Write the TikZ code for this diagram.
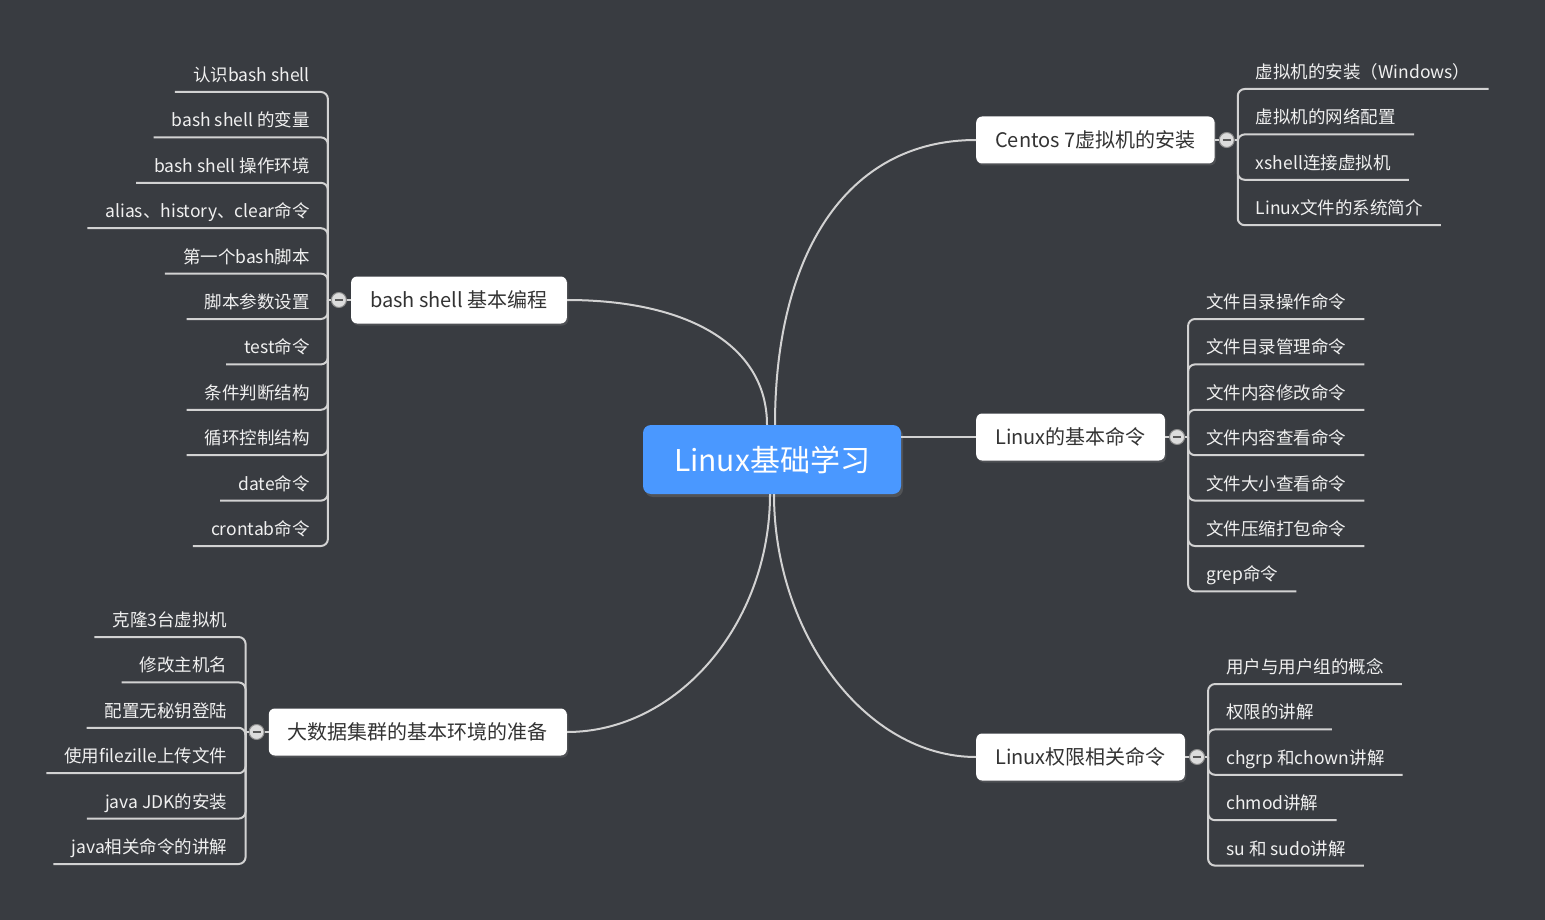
\documentclass[tikz,border=0pt]{standalone}
\usepackage{fontspec}
\setmainfont{Noto Sans CJK SC}
\usetikzlibrary{positioning,shadows}
\definecolor{bgDark}{HTML}{393C41}
\definecolor{rootBlue}{HTML}{4A98FF}
\definecolor{topicText}{HTML}{333333}
\definecolor{leafText}{HTML}{F0F0F0}
\definecolor{lineGray}{HTML}{D2D2D2}
\definecolor{foldFill}{HTML}{DCDCDC}
\tikzset{
  rootbox/.style={fill=rootBlue, rounded corners=8pt, text=white,
    minimum width=258pt, minimum height=69pt, font=\fontsize{30}{36}\selectfont,
    drop shadow={opacity=0.35, shadow xshift=2pt, shadow yshift=-3pt}},
  topicbox/.style={fill=white, rounded corners=6pt, text=topicText,
    inner xsep=19pt, minimum height=47pt, font=\fontsize{20}{24}\selectfont,
    drop shadow={opacity=0.3, shadow xshift=1.5pt, shadow yshift=-2pt}},
  leafnode/.style={text=leafText, inner xsep=18pt, inner ysep=0pt,
    text height=34.7pt, text depth=10.3pt, font=\fontsize{17.5}{21}\selectfont},
  foldbtn/.style={circle, draw=black!45, fill=foldFill, line width=1pt,
    minimum size=15pt, inner sep=0pt,
    path picture={\draw[line width=2.5pt, black!65]
      ([xshift=-4pt]path picture bounding box.center) --
      ([xshift=4pt]path picture bounding box.center);}},
  limbArc/.style={draw=lineGray, line width=2pt},
  twigArc/.style={draw=lineGray, line width=2pt, rounded corners=7pt},
}

\begin{document}
\begin{tikzpicture}[x=1pt, y=-1pt]
    \fill[bgDark] (0,0) rectangle (1545,920);
    \useasboundingbox (0,0) rectangle (1545,920);

    % root and main topics
    \node[rootbox] (root) at (772,459.5) {Linux基础学习};
    \node[topicbox, anchor=west] (centos) at (976,140) {Centos 7虚拟机的安装};
    \node[topicbox, anchor=west] (basic) at (976,437) {Linux的基本命令};
    \node[topicbox, anchor=west] (perm) at (976,757) {Linux权限相关命令};
    \node[topicbox, anchor=east] (bash) at (567,300) {bash shell 基本编程};
    \node[topicbox, anchor=east] (bigdata) at (567,732) {大数据集群的基本环境的准备};

    \draw[limbArc] ([xshift=3pt]root.north) .. controls +(0,-170) and +(-130,0) .. (centos.west);
    \draw[limbArc] ([xshift=-5pt]root.north) .. controls +(0,-80) and +(120,0) .. (bash.east);
    \draw[limbArc] (root.east |- basic.west) -- (basic.west);
    \draw[limbArc] ([xshift=2pt]root.south) .. controls +(0,140) and +(-110,0) .. (perm.west);
    \draw[limbArc] ([xshift=-2pt]root.south) .. controls +(0,130) and +(110,0) .. (bigdata.east);

    % fold buttons
    \node[foldbtn, right=4pt of centos] (centosFold) {};
    \node[foldbtn, right=4pt of basic] (basicFold) {};
    \node[foldbtn, right=4pt of perm] (permFold) {};
    \node[foldbtn, left=4pt of bash] (bashFold) {};
    \node[foldbtn, left=4pt of bigdata] (bigdataFold) {};
    \coordinate[right=3pt of centosFold] (centosV);
    \coordinate[right=3pt of basicFold] (basicV);
    \coordinate[right=3pt of permFold] (permV);
    \coordinate[left=3pt of bashFold] (bashV);
    \coordinate[left=3pt of bigdataFold] (bigdataV);

    % Centos 7
    \node[leafnode, anchor=south west] (c1) at (centosV |- 0,89) {虚拟机的安装（Windows）};
    \node[leafnode, below=0pt of c1.south west, anchor=north west] (c2) {虚拟机的网络配置};
    \node[leafnode, below=0pt of c2.south west, anchor=north west] (c3) {xshell连接虚拟机};
    \node[leafnode, below=0pt of c3.south west, anchor=north west] (c4) {Linux文件的系统简介};

    % basic commands
    \node[leafnode, anchor=south west] (l1) at (basicV |- 0,319) {文件目录操作命令};
    \node[leafnode, below=0pt of l1.south west, anchor=north west] (l2) {文件目录管理命令};
    \node[leafnode, below=0pt of l2.south west, anchor=north west] (l3) {文件内容修改命令};
    \node[leafnode, below=0pt of l3.south west, anchor=north west] (l4) {文件内容查看命令};
    \node[leafnode, below=0pt of l4.south west, anchor=north west] (l5) {文件大小查看命令};
    \node[leafnode, below=0pt of l5.south west, anchor=north west] (l6) {文件压缩打包命令};
    \node[leafnode, below=0pt of l6.south west, anchor=north west] (l7) {grep命令};

    % permissions
    \node[leafnode, anchor=south west] (p1) at (permV |- 0,684) {用户与用户组的概念};
    \node[leafnode, below=0pt of p1.south west, anchor=north west] (p2) {权限的讲解};
    \node[leafnode, below=0pt of p2.south west, anchor=north west] (p3) {chgrp 和chown讲解};
    \node[leafnode, below=0pt of p3.south west, anchor=north west] (p4) {chmod讲解};
    \node[leafnode, below=0pt of p4.south west, anchor=north west] (p5) {su 和 sudo讲解};

    % bash shell
    \node[leafnode, anchor=south east] (b1) at (bashV |- 0,92) {认识bash shell};
    \node[leafnode, below=0pt of b1.south east, anchor=north east] (b2) {bash shell 的变量};
    \node[leafnode, below=0pt of b2.south east, anchor=north east] (b3) {bash shell 操作环境};
    \node[leafnode, below=0pt of b3.south east, anchor=north east] (b4) {alias、history、clear命令};
    \node[leafnode, below=0pt of b4.south east, anchor=north east] (b5) {第一个bash脚本};
    \node[leafnode, below=0pt of b5.south east, anchor=north east] (b6) {脚本参数设置};
    \node[leafnode, below=0pt of b6.south east, anchor=north east] (b7) {test命令};
    \node[leafnode, below=0pt of b7.south east, anchor=north east] (b8) {条件判断结构};
    \node[leafnode, below=0pt of b8.south east, anchor=north east] (b9) {循环控制结构};
    \node[leafnode, below=0pt of b9.south east, anchor=north east] (b10) {date命令};
    \node[leafnode, below=0pt of b10.south east, anchor=north east] (b11) {crontab命令};

    % big data environment
    \node[leafnode, anchor=south east] (d1) at (bigdataV |- 0,637) {克隆3台虚拟机};
    \node[leafnode, below=0pt of d1.south east, anchor=north east] (d2) {修改主机名};
    \node[leafnode, below=0pt of d2.south east, anchor=north east] (d3) {配置无秘钥登陆};
    \node[leafnode, below=0pt of d3.south east, anchor=north east] (d4) {使用filezille上传文件};
    \node[leafnode, below=0pt of d4.south east, anchor=north east] (d5) {java JDK的安装};
    \node[leafnode, below=0pt of d5.south east, anchor=north east] (d6) {java相关命令的讲解};

    % brackets
    \draw[limbArc] (centos.east) -- (centosFold.west);
    \draw[limbArc] (basic.east) -- (basicFold.west);
    \draw[limbArc] (perm.east) -- (permFold.west);
    \draw[limbArc] (bash.west) -- (bashFold.east);
    \draw[limbArc] (bigdata.west) -- (bigdataFold.east);
    \draw[limbArc] (centosFold.east) -- (centosV);
    \draw[limbArc] (basicFold.east) -- (basicV);
    \draw[limbArc] (permFold.east) -- (permV);
    \draw[limbArc] (bashFold.west) -- (bashV);
    \draw[limbArc] (bigdataFold.west) -- (bigdataV);
    \foreach \k in {1,...,4} \draw[twigArc] (centosV) |- (c\k.south east);
    \foreach \k in {1,...,7} \draw[twigArc] (basicV) |- (l\k.south east);
    \foreach \k in {1,...,5} \draw[twigArc] (permV) |- (p\k.south east);
    \foreach \k in {1,...,11} \draw[twigArc] (bashV) |- (b\k.south west);
    \foreach \k in {1,...,6} \draw[twigArc] (bigdataV) |- (d\k.south west);
\end{tikzpicture}
\end{document}
